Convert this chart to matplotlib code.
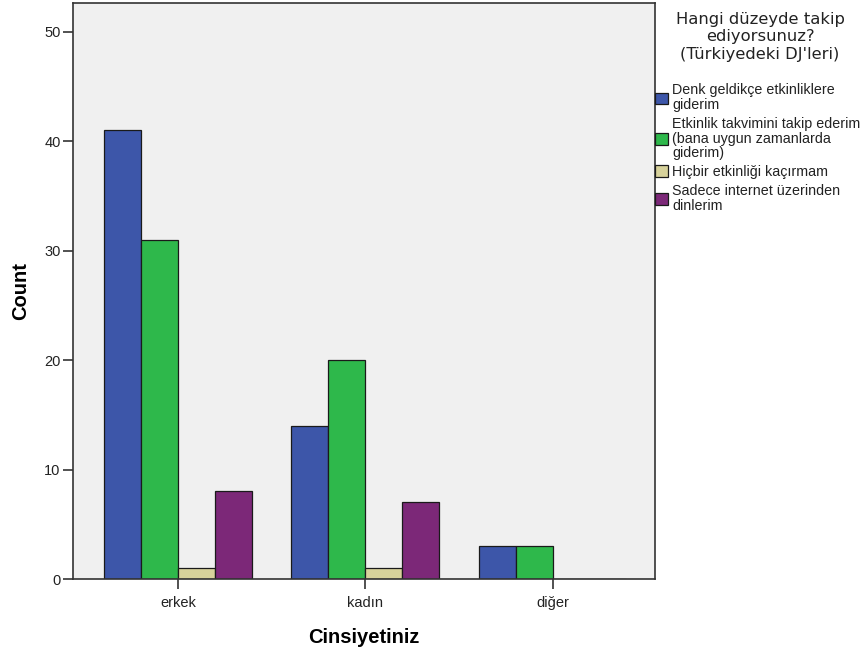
import numpy as np
import matplotlib.pyplot as plt
from matplotlib.patches import Patch

plt.rcParams['font.family'] = ['Liberation Sans', 'DejaVu Sans']

categories = ["erkek", "kadın", "diğer"]
series_names = [
    "Denk geldikçe etkinliklere\ngiderim",
    "Etkinlik takvimini takip ederim\n(bana uygun zamanlarda\ngiderim)",
    "Hiçbir etkinliği kaçırmam",
    "Sadece internet üzerinden\ndinlerim",
]
legend_title = "Hangi düzeyde takip\nediyorsunuz?\n(Türkiyedeki DJ'leri)"
counts_denk = [41, 14, 3]
counts_takvim = [31, 20, 3]
counts_hicbir = [1, 1, 0]
counts_internet = [8, 7, 0]
colors = ["#3d56a9", "#2eb84b", "#d7d29b", "#7c2878"]

series = [counts_denk, counts_takvim, counts_hicbir, counts_internet]

fig = plt.figure(figsize=(8.67, 6.47), dpi=100)
fig.patch.set_facecolor("white")
ax = fig.add_axes([0.0842, 0.105, 0.671, 0.890])
ax.set_facecolor("#f0f0f0")

x = np.arange(len(categories))
width = 0.197
for i, (vals, col) in enumerate(zip(series, colors)):
    offs = (i - 1.5) * width
    ax.bar(x + offs, vals, width, color=col, edgecolor="#1a1a1a", linewidth=0.9)

ax.set_xlim(-0.56, 2.545)
ax.set_ylim(0, 52.6)
ax.set_yticks([0, 10, 20, 30, 40, 50])
ax.set_xticks(x)
ax.set_xticklabels(categories)
ax.tick_params(axis="both", labelsize=10.5, length=7, width=1.2,
               color="#333333", labelcolor="#222222")
ax.tick_params(axis="y", pad=2)
ax.tick_params(axis="x", pad=5)
for s in ax.spines.values():
    s.set_color("#333333")
    s.set_linewidth(1.2)

ax.set_ylabel("Count", fontsize=14.5, fontweight="bold", labelpad=10)
ax.set_xlabel("Cinsiyetiniz", fontsize=14.5, fontweight="bold", labelpad=13)

# legend title drawn separately so spacing can match
fig.text(0.8766, 0.982, legend_title, ha="center", va="top",
         fontsize=11.8, family="DejaVu Sans", linespacing=1.22, color="#222222")

handles = [Patch(facecolor=c, edgecolor="#1a1a1a", linewidth=0.9) for c in colors]
leg = fig.legend(handles, series_names, loc="upper left",
                 bbox_to_anchor=(0.756, 0.871),
                 fontsize=10.3, frameon=False,
                 handlelength=0.85, handleheight=0.85, handletextpad=0.3,
                 labelspacing=0.35, borderaxespad=0, borderpad=0)
for t in leg.get_texts():
    t.set_linespacing(1.05)
    t.set_color("#222222")

fig.savefig("out.png", dpi=100)
